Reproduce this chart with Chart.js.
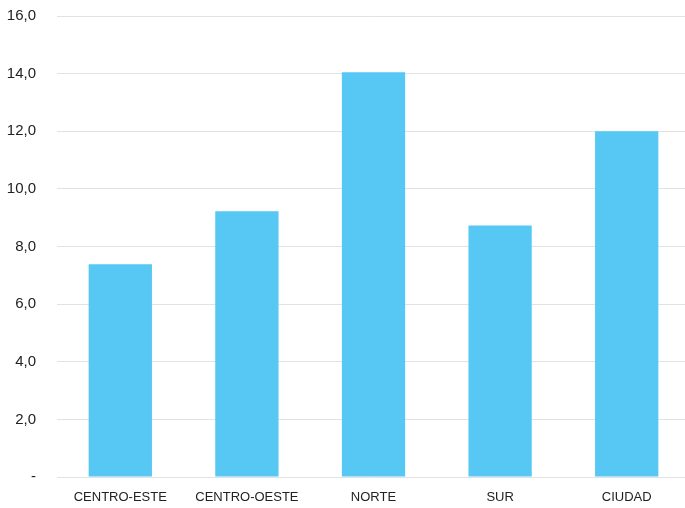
<!DOCTYPE html>
<html>
<head>
<meta charset="utf-8">
<script src="https://cdn.jsdelivr.net/npm/chart.js@4"></script>
<style>
  html, body { margin: 0; padding: 0; background: #fff; overflow: hidden; }
  #wrap { width: 692px; height: 522px; margin-top: -14px; }
</style>
</head>
<body>
<div id="wrap"><canvas id="myChart"></canvas></div>
<script>
const regions = ['CENTRO-ESTE', 'CENTRO-OESTE', 'NORTE', 'SUR', 'CIUDAD']
const values = [7.38, 9.22, 14.05, 8.73, 12.0]
const yTickLabels = ['-', '2,0', '4,0', '6,0', '8,0', '10,0', '12,0', '14,0', '16,0']

let ctx = document.querySelector('#myChart').getContext('2d')
let myChart = new Chart(ctx, {
  type: 'bar',
  data: {
    labels: regions,
    datasets: [{
      data: values,
      backgroundColor: '#56c8f3',
      borderWidth: 0,
      barPercentage: 0.5,
      categoryPercentage: 1
    }]
  },
  options: {
    responsive: true,
    maintainAspectRatio: false,
    animation: false,
    layout: { padding: { top: 1, right: 2, left: 0, bottom: 0 } },
    plugins: { legend: { display: false }, tooltip: { enabled: false } },
    scales: {
      x: {
        grid: { display: false },
        border: { display: false },
        ticks: { color: '#222', padding: 5, font: { family: 'Liberation Sans, Arial', size: 13 } },
        afterFit: s => { s.height = 31 }
      },
      y: {
        min: 0,
        max: 16,
        ticks: {
          stepSize: 2,
          color: '#222',
          padding: 21,
          font: { family: 'Liberation Sans, Arial', size: 15 },
          callback: (v, i) => yTickLabels[i]
        },
        grid: { color: '#e2e2e2', drawTicks: false },
        border: { display: false },
        afterFit: s => { s.width = 57 }
      }
    }
  }
})
</script>
</body>
</html>
